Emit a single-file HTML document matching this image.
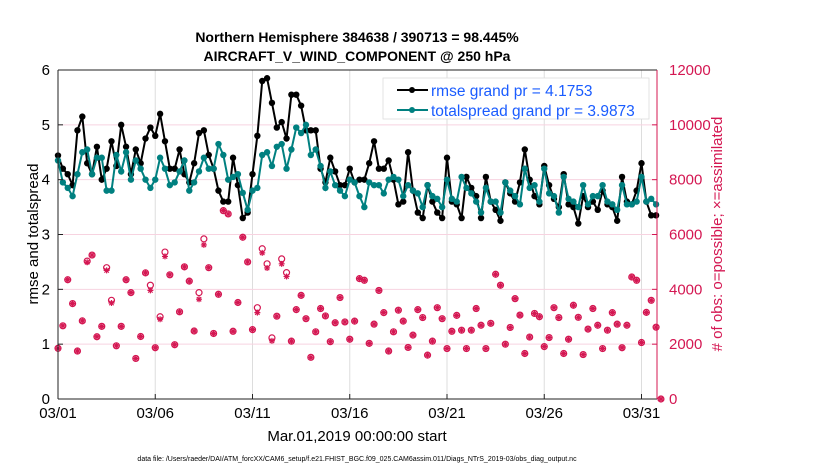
<!DOCTYPE html>
<html><head><meta charset="utf-8"><style>
body{margin:0;background:#fff;width:830px;height:470px;overflow:hidden}
svg{font-family:"Liberation Sans",sans-serif}
</style></head><body>
<svg id="chart" width="830" height="470" xmlns="http://www.w3.org/2000/svg">
<text x="357" y="42" text-anchor="middle" font-size="14" font-weight="bold">Northern Hemisphere 384638 / 390713 = 98.445%</text>
<text x="357" y="61" text-anchor="middle" font-size="14" font-weight="bold">AIRCRAFT_V_WIND_COMPONENT @ 250 hPa</text>
<text x="357" y="441" text-anchor="middle" font-size="15">Mar.01,2019 00:00:00 start</text>
<text transform="translate(38,234) rotate(-90)" text-anchor="middle" font-size="15">rmse and totalspread</text>
<text transform="translate(722,234) rotate(-90)" text-anchor="middle" font-size="15" fill="#d41752"># of obs: o=possible; ×=assimilated</text>
<text x="357" y="461" text-anchor="middle" font-size="7">data file: /Users/raeder/DAI/ATM_forcXX/CAM6_setup/f.e21.FHIST_BGC.f09_025.CAM6assim.011/Diags_NTrS_2019-03/obs_diag_output.nc</text>
<g id="grid"></g><g id="obs"></g><g id="lines"></g><g id="axes"></g>
<g>
<rect x="383" y="78" width="266" height="41" fill="#fff" stroke="#ddd" stroke-width="0.8"/>
<line x1="397" y1="90" x2="428" y2="90" stroke="#000" stroke-width="2"/><circle cx="412" cy="90" r="3" fill="#000"/>
<text x="431" y="96" font-size="15.5" fill="#1a5cff">rmse grand pr = 4.1753</text>
<line x1="397" y1="110" x2="428" y2="110" stroke="#008080" stroke-width="2"/><circle cx="412" cy="110" r="3" fill="#008080"/>
<text x="431" y="116" font-size="15.5" fill="#1a5cff">totalspread grand pr = 3.9873</text>
</g>
</svg>
<script>
const rmse=[4.44,4.2,4.1,3.9,4.9,5.15,4.3,4.1,4.6,4.0,4.2,4.7,4.25,5.0,4.6,4.1,4.55,4.3,4.75,4.95,4.8,5.2,4.7,4.2,4.2,4.55,4.1,3.95,4.3,4.85,4.9,4.45,4.2,3.8,3.6,3.6,4.4,3.9,3.3,3.4,4.1,4.8,5.8,5.85,5.4,4.95,5.05,4.75,5.55,5.55,5.35,4.9,4.9,4.9,4.2,3.95,4.4,4.15,3.9,3.9,4.2,3.95,4.0,4.0,4.3,4.7,4.2,4.2,4.35,4.0,3.55,3.6,4.5,3.8,3.4,3.3,3.9,3.6,3.4,3.3,4.4,3.6,3.55,3.3,4.05,3.85,3.7,3.3,4.05,3.6,3.45,3.25,3.95,3.75,3.6,3.95,4.55,4.0,3.7,3.55,4.25,3.9,3.65,3.5,4.1,3.55,3.5,3.2,3.7,3.5,3.6,3.45,3.8,3.55,3.5,3.25,4.05,3.6,3.55,3.8,4.3,3.6,3.35,3.35];
const spread=[4.35,3.95,3.85,3.7,4.1,4.5,4.55,4.1,4.4,4.4,3.8,3.8,4.45,4.15,4.5,4.0,4.35,4.2,4.0,3.85,4.0,4.4,4.2,3.9,3.95,4.15,4.35,3.8,3.95,4.15,4.4,4.2,4.2,4.65,4.45,4.0,4.05,4.1,3.76,3.45,3.8,3.85,4.45,4.5,4.25,4.6,4.65,4.2,4.55,4.95,4.85,5.0,4.45,4.55,4.25,3.85,4.15,3.9,3.8,3.7,4.0,3.95,3.7,3.5,3.95,3.9,3.9,3.75,4.0,4.05,4.0,3.7,3.9,3.8,3.75,3.5,3.9,3.7,3.65,3.5,4.0,3.65,3.6,4.05,3.85,3.75,3.6,3.4,3.85,3.6,3.6,3.4,3.95,3.8,3.7,3.55,4.2,3.85,3.9,3.6,4.2,3.75,3.7,3.4,4.05,3.65,3.6,3.5,3.9,3.55,3.7,3.7,3.9,3.6,3.55,3.45,3.9,3.55,3.55,3.6,4.05,3.6,3.65,3.55];
const possible=[1850,2670,4350,3480,1750,2850,5030,5250,2270,2650,4790,3600,1940,2650,4350,3880,1480,2280,4600,4150,1870,3000,5360,4530,1980,3180,4820,4300,2480,3880,5840,4790,2390,3820,6870,6750,2470,3520,5900,5000,2530,3330,5480,4930,2230,3020,5110,4610,2110,3260,3780,2930,1520,2450,3300,3030,2090,2780,3700,2810,2180,2840,4390,4330,2030,2730,3960,3150,1750,2450,3240,2840,1880,2330,3260,2970,1600,2110,3330,2930,1840,2470,3050,2510,1840,2510,3300,2690,1840,2760,4550,4150,2000,2610,3660,3060,1660,2260,3120,3000,1910,2240,3330,2970,1660,2180,3420,2980,1620,2550,3300,2690,1840,2510,3150,2730,1870,2690,4450,4330,2060,3160,3600,2620,0];
const assimilated=[1850,2670,4350,3480,1750,2850,4990,5250,2270,2650,4690,3500,1940,2650,4350,3880,1480,2280,4600,3960,1870,2910,5200,4530,1980,3180,4820,4300,2480,3640,5620,4790,2390,3820,6870,6750,2470,3520,5900,5000,2530,3150,5330,4780,2120,3020,4930,4470,2110,3260,3780,2930,1520,2450,3300,3030,2090,2780,3700,2810,2180,2840,4390,4330,2030,2730,3960,3150,1750,2450,3240,2840,1880,2330,3260,2970,1600,2110,3330,2930,1840,2470,3050,2510,1840,2510,3300,2690,1840,2760,4550,4150,2000,2610,3660,3060,1660,2260,3120,3000,1910,2240,3330,2970,1660,2180,3420,2980,1620,2550,3300,2690,1840,2510,3150,2730,1870,2690,4450,4330,2060,3160,3600,2620,0];
const xTickDays=[0,5,10,15,20,25,30];
const xTickLabels=["03/01","03/06","03/11","03/16","03/21","03/26","03/31"];
const leftTicks=[0,1,2,3,4,5,6];
const rightTicks=[0,2000,4000,6000,8000,10000,12000];
const NS="http://www.w3.org/2000/svg";
const X0=58,X1=657,Y0=399,Y1=70,DAYPX=19.45;
const xs=d=>X0+d*DAYPX;
const yl=v=>Y0-(v/6)*(Y0-Y1);
const yr=v=>Y0-(v/12000)*(Y0-Y1);
function mk(p,t,a){const e=document.createElementNS(NS,t);for(const k in a)e.setAttribute(k,a[k]);p.appendChild(e);return e;}
const grid=document.getElementById('grid'),axes=document.getElementById('axes'),lines=document.getElementById('lines'),obs=document.getElementById('obs');
xTickDays.forEach((d,i)=>{
 if(i>0){const g=mk(grid,'line',{x1:xs(d),x2:xs(d),y1:Y1,y2:Y0,stroke:'#ddd','stroke-width':1});
 
 }
 mk(axes,'line',{x1:xs(d),x2:xs(d),y1:Y0,y2:Y0-5,stroke:'#222'});
 const t=mk(axes,'text',{x:xs(d),y:Y0+19,'text-anchor':'middle','font-size':15});t.textContent=xTickLabels[i];
 
 
});
rightTicks.forEach(v=>{
 if(v>0&&v<12000){const g=mk(grid,'line',{x1:X0,x2:X1,y1:yr(v),y2:yr(v),stroke:'#f7d3e0','stroke-width':1});
 
 }
 mk(axes,'line',{x1:X1,x2:X1-5,y1:yr(v),y2:yr(v),stroke:'#d41752'});
 const t=mk(axes,'text',{x:X1+12,y:yr(v)+5,'font-size':15,fill:'#d41752'});t.textContent=v;
 
 
});
leftTicks.forEach(v=>{
 mk(axes,'line',{x1:X0,x2:X0+5,y1:yl(v),y2:yl(v),stroke:'#222'});
 const t=mk(axes,'text',{x:X0-8,y:yl(v)+5,'text-anchor':'end','font-size':15});t.textContent=v;
 
 
});
mk(axes,'line',{x1:X0,x2:X0,y1:Y1,y2:Y0,stroke:'#222'});
mk(axes,'line',{x1:X0,x2:X1,y1:Y0,y2:Y0,stroke:'#222'});
mk(axes,'line',{x1:X0,x2:X1,y1:Y1,y2:Y1,stroke:'#222'});
mk(axes,'line',{x1:X1,x2:X1,y1:Y1,y2:Y0,stroke:'#d41752'});
possible.forEach((v,i)=>{
 const c=mk(obs,'circle',{cx:xs(i*0.25),cy:yr(v),r:3,fill:'none',stroke:'#d41752','stroke-width':1.2});
 
 
});
assimilated.forEach((v,i)=>{
 const x=xs(i*0.25),y=yr(v);
 const s=mk(obs,'path',{d:`M${x-3} ${y}H${x+3}M${x} ${y-3}V${y+3}M${x-2.2} ${y-2.2}L${x+2.2} ${y+2.2}M${x-2.2} ${y+2.2}L${x+2.2} ${y-2.2}`,stroke:'#d41752','stroke-width':1.2});
 
 
});
function series(arr,col,name,r){
 const p=mk(lines,'polyline',{points:arr.map((v,i)=>xs(i*0.25)+','+yl(v)).join(' '),fill:'none',stroke:col,'stroke-width':2});
 
 
 arr.forEach((v,i)=>{const c=mk(lines,'circle',{cx:xs(i*0.25),cy:yl(v),r:r,fill:col});
 
 });
}
series(rmse,'#000','rmse',3.2);
series(spread,'#008080','totalspread',3.2);
</script>
</body></html>
